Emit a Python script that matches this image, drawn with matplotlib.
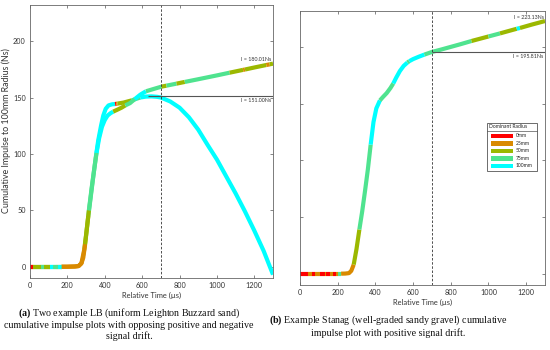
import numpy as np
import matplotlib
matplotlib.use("Agg")
import matplotlib.pyplot as plt
from matplotlib.patches import Rectangle

# dominant radius classes
radius_labels = ["0mm", "25mm", "50mm", "75mm", "100mm"]
radius_colors = ["#ff0000", "#d98a00", "#9bb800", "#4fe38f", "#00ffff"]

# (a) LB sample, positive drift: time (us), impulse (Ns), radius index per segment
lb_pos_t = [0, 16, 60, 75, 107, 125, 150, 169, 200, 240, 260, 275, 285, 295, 305, 315,
            330, 345, 356, 370, 385, 400, 415, 430, 445, 465, 490, 510, 535, 560, 590,
            620, 660, 703, 730, 784, 828, 900, 1000, 1068, 1140, 1150, 1200, 1264, 1282, 1300]
lb_pos_i = [0, 0, 0, 0, 0, 0, 0, 0, 0, 0.2, 0.6, 3, 8, 20, 35, 50,
            70, 88, 101, 114, 124, 130, 134, 136, 137.5, 139, 141, 143, 145, 148.5, 152.5,
            155.5, 157.5, 159.6, 160.5, 162.3, 163.8, 166.2, 169.6, 172, 174.5, 174.8, 176.6,
            178.8, 179.4, 180.01]
lb_pos_r = [0, 2, 3, 2, 4, 3, 4, 1, 1, 1, 1, 1, 1, 2, 2, 3, 3, 3, 4, 4,
            4, 4, 4, 4, 2, 2, 2, 3, 3, 4, 4, 3, 3, 2, 3, 2, 3, 3, 3, 2,
            1, 2, 2, 1, 2]

# (a) LB sample, negative drift
lb_neg_t = [0, 20, 60, 107, 140, 169, 200, 240, 260, 275, 290, 300, 312, 325, 340, 352,
            365, 380, 392, 405, 420, 440, 455, 462, 468, 500, 545, 590, 620, 650, 680, 700,
            750, 800, 850, 900, 950, 1000, 1050, 1100, 1150, 1200, 1250, 1300]
lb_neg_i = [0, 0, 0, 0, 0, 0, 0, 0.2, 0.6, 3, 15, 28, 45, 62, 82, 97,
            112, 125, 134, 140, 143, 144, 144.2, 144.4, 144.6, 145.5, 147.5, 150, 150.8, 151.0,
            150.6, 150, 146.5, 141, 132.5, 121.5, 108, 95, 80, 65, 49, 32, 14, -7]
lb_neg_r = [1, 3, 2, 4, 2, 1, 1, 1, 1, 1, 2, 2, 3, 3, 3, 4, 4, 4, 4, 4,
            4, 4, 0, 1, 2, 2, 3, 4, 4, 4, 4, 4, 4, 4, 4, 4, 4, 4, 4, 4,
            4, 4, 4]

# (b) Stanag sample, positive drift
st_t = [0, 44, 62, 80, 106, 130, 140, 160, 175, 190, 203, 218, 240, 260, 272, 285, 300,
        315, 330, 345, 360, 375, 390, 405, 424, 440, 460, 480, 495, 510, 530, 550, 570,
        580, 600, 630, 660, 700, 750, 800, 850, 910, 1000, 1061, 1100, 1150, 1167, 1230, 1300]
st_i = [0, 0, 0, 0, 0, 0, 0, 0, 0, 0, 0, 0, 0.1, 0.5, 2.5, 8, 22,
        39, 55, 73, 92, 114, 134, 146, 153, 156, 159.5, 164, 168, 173, 179, 183.5, 186.5,
        187.7, 189.5, 191.6, 193.5, 195.81, 198, 200.3, 202.6, 205.5, 209.5, 212.2, 214,
        216.3, 217, 220, 223.13]
st_r = [0, 1, 0, 1, 0, 1, 0, 1, 0, 1, 3, 1, 1, 1, 1, 2, 2, 3, 3, 3,
        3, 4, 4, 4, 3, 3, 3, 3, 4, 4, 4, 4, 3, 4, 4, 4, 3, 3, 3, 3,
        3, 2, 3, 2, 2, 4, 2, 2]

t_mark = 700
xticks = [0, 200, 400, 600, 800, 1000, 1200]
yticks = [0, 50, 100, 150, 200]

plt.rcParams["font.family"] = ["Lato", "DejaVu Sans"]
plt.rcParams["mathtext.fontset"] = "custom"
plt.rcParams["mathtext.rm"] = "Liberation Serif"
plt.rcParams["mathtext.bf"] = "Liberation Serif:bold"


def draw_curve(ax, t, imp, rad):
    start = 0
    for k in range(1, len(rad) + 1):
        if k == len(rad) or rad[k] != rad[start]:
            ax.plot(t[start:k + 1], imp[start:k + 1], color=radius_colors[rad[start]],
                    lw=3, solid_capstyle="butt", solid_joinstyle="round")
            start = k


def style(ax):
    ax.set_xlim(0, 1300)
    ax.set_ylim(-10, 232)
    ax.set_xticks(xticks)
    ax.set_yticks(yticks)
    ax.tick_params(direction="in", length=2.5, width=0.5, top=True, right=True,
                   labelsize=5.2, colors="#555", labelcolor="#333", pad=3)
    for s in ax.spines.values():
        s.set_color("#666")
        s.set_linewidth(0.6)
    ax.set_xlabel("Relative Time (\u00b5s)", fontsize=5.4, color="#333", labelpad=2)


fig = plt.figure(figsize=(5.5, 3.5), dpi=100)
ax1 = fig.add_axes([30 / 550, 72 / 350, 243 / 550, 273 / 350])
ax2 = fig.add_axes([300 / 550, 65 / 350, 245 / 550, 274 / 350])

# left panel
draw_curve(ax1, lb_neg_t, lb_neg_i, lb_neg_r)
draw_curve(ax1, lb_pos_t, lb_pos_i, lb_pos_r)
style(ax1)
ax1.set_ylabel("Cumulative Impulse to 100mm Radius (Ns)", fontsize=6.4, color="#333")
ax1.yaxis.set_label_coords(-0.08, 0.54)
ax1.axvline(t_mark, color="#333", lw=0.6, ls=(0, (3, 2)))
k_peak = int(np.argmax(lb_neg_i))
ax1.hlines(lb_neg_i[k_peak], lb_neg_t[k_peak] - 20, 1300, color="#555", lw=0.8)
ax1.annotate(f"I = {lb_pos_i[-1]:.2f}Ns", (1300, lb_pos_i[-1]), xytext=(-1, 1.5),
             textcoords="offset points", ha="right", va="bottom", fontsize=3.8, color="#333")
ax1.annotate(f"I = {lb_neg_i[k_peak]:.2f}Ns", (1300, lb_neg_i[k_peak]), xytext=(-1, -1.5),
             textcoords="offset points", ha="right", va="top", fontsize=3.8, color="#333")

# right panel
draw_curve(ax2, st_t, st_i, st_r)
style(ax2)
ax2.set_yticklabels([])
ax2.axvline(t_mark, color="#333", lw=0.6, ls=(0, (3, 2)))
i_mark = st_i[st_t.index(t_mark)]
ax2.hlines(i_mark, t_mark, 1300, color="#555", lw=0.8)
ax2.annotate(f"I = {st_i[-1]:.2f}Ns", (1300, st_i[-1]), xytext=(-1, 1),
             textcoords="offset points", ha="right", va="bottom", fontsize=3.8, color="#333")
ax2.annotate(f"I = {i_mark:.2f}Ns", (1300, i_mark), xytext=(-1, -1.5),
             textcoords="offset points", ha="right", va="top", fontsize=3.8, color="#333")

# legend box (axes fraction)
tr = ax2.transAxes
ax2.add_patch(Rectangle((0.762, 0.417), 0.204, 0.173, transform=tr, facecolor="white",
                        edgecolor="#555", lw=0.6, zorder=5))
ax2.plot([0.762, 0.966], [0.562, 0.562], transform=tr, color="#555", lw=0.5, zorder=6)
ax2.text(0.772, 0.577, "Dominant Radius", transform=tr, fontsize=3.6, va="center",
         color="#222", zorder=6)
for n, (lab, col) in enumerate(zip(radius_labels, radius_colors)):
    yy = 0.544 - n * 0.0273
    ax2.add_patch(Rectangle((0.780, yy - 0.008), 0.089, 0.016, transform=tr,
                            facecolor=col, edgecolor="none", zorder=6))
    ax2.text(0.880, yy, lab, transform=tr, fontsize=3.6, va="center", color="#222", zorder=6)

# captions
fig.text(129 / 550, 1 - 324 / 350,
         "$\\mathbf{(a)}$ Two example LB (uniform Leighton Buzzard sand)\n"
         "cumulative impulse plots with opposing positive and negative\nsignal drift.",
         ha="center", va="center", fontsize=7.2, family="Liberation Serif",
         linespacing=1.15, color="#111")
fig.text(388 / 550, 1 - 326 / 350,
         "$\\mathbf{(b)}$ Example Stanag (well-graded sandy gravel) cumulative\n"
         "impulse plot with positive signal drift.",
         ha="center", va="center", fontsize=7.2, family="Liberation Serif",
         linespacing=1.15, color="#111")

fig.savefig("out.png", dpi=100)
